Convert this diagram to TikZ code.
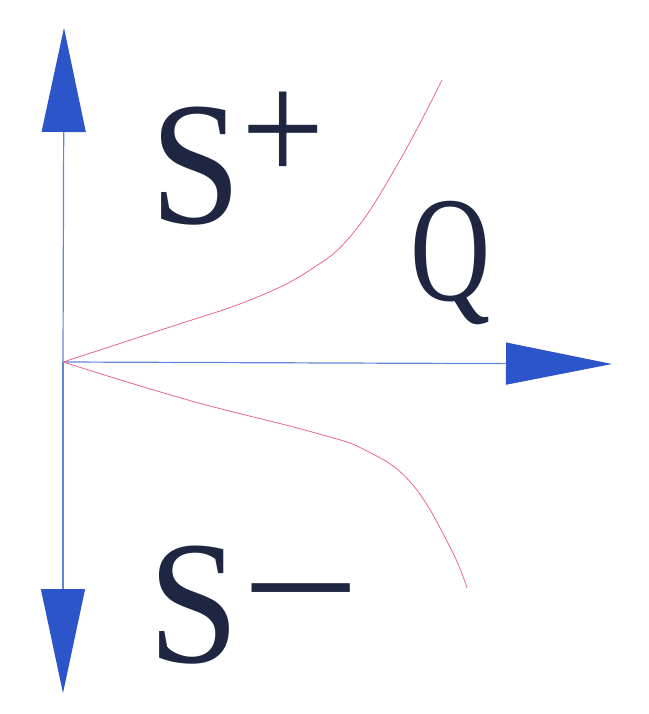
\documentclass[tikz,border=0pt]{standalone}
\usepackage{fontspec}
\setmainfont{Liberation Serif}
\usetikzlibrary{arrows.meta}
\definecolor{axisblue}{RGB}{43,85,200}
\definecolor{lineblue}{RGB}{95,135,215}
\definecolor{curvered}{RGB}{232,105,135}
\definecolor{ink}{RGB}{30,38,66}
\begin{document}
\begin{tikzpicture}[x=1pt,y=-1pt,
    axis/.style={draw=lineblue, line width=1.2pt},
    vtip/.style={-{Triangle[length=104pt,width=44pt,color=axisblue]}},
    htip/.style={-{Triangle[length=106pt,width=42pt,color=axisblue]}},
    branch/.style={draw=curvered, line width=0.8pt},
    lbl/.style={inner sep=0pt, text=ink, font=\fontsize{176}{176}\selectfont}]
    \useasboundingbox (0,0) rectangle (648,714);
    \coordinate (O) at (63,362);
    \coordinate (top) at (64,28);
    \coordinate (bottom) at (63,693);
    \coordinate (right) at (612,364);
    \draw[axis,vtip](O)--(top);
    \draw[axis,vtip](O)--(bottom);
    \draw[axis,htip](O)--(right);
    % the two branches
    \draw[branch] plot[smooth,tension=0.7] coordinates {(O) (167,328) (250,300) (310,270) (354,232) (400,160) (442,80)};
    \draw[branch] plot[smooth,tension=0.7] coordinates {(O) (188,400) (312,432) (367,451) (412,484) (450,547) (467,588)};
    \node[lbl,anchor=base west](splus) at (150,223){\scalebox{0.93}[1]{S}\raisebox{41pt}{\scalebox{0.84}[0.91]{+}}};
    \node[lbl,anchor=base west](q) at (410,300){\fontsize{150}{150}\selectfont\scalebox{0.74}[1]{Q}};
    \node[lbl,anchor=base west](sminus) at (148,662){\scalebox{0.93}[1]{S}\hspace{2pt}\raisebox{16pt}{\scalebox{1.2}[1]{−}}};
\end{tikzpicture}
\end{document}
